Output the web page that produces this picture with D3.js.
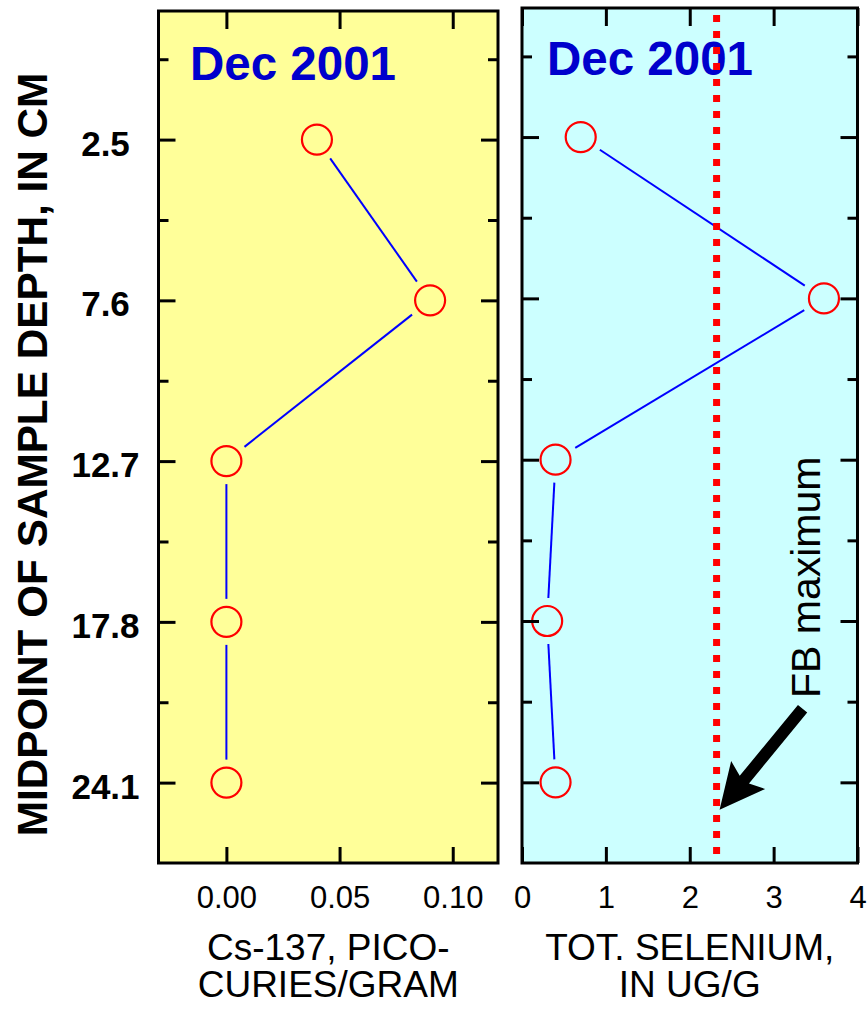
<!DOCTYPE html>
<html><head><meta charset="utf-8">
<script src="https://cdn.jsdelivr.net/npm/d3@7"></script>
<style>body{margin:0;background:#fff}</style>
</head><body><svg id="c" width="867" height="1016" xmlns="http://www.w3.org/2000/svg"></svg>
<script>
// ---- data ----
const depthLabels = ["2.5", "7.6", "12.7", "17.8", "24.1"];
const cs137 = [0.04, 0.09, 0.0, 0.0, 0.0];
const selenium = [0.7, 3.6, 0.4, 0.3, 0.4];
const fbMaximum = 2.32;
const csTicks = [0.00, 0.05, 0.10];
const seTicks = [0, 1, 2, 3, 4];
const panelTitle = "Dec 2001";
const yAxisTitle = "MIDPOINT OF SAMPLE DEPTH, IN CM";
const csLabel = ["Cs-137, PICO-", "CURIES/GRAM"];
const seLabel = ["TOT. SELENIUM,", "IN UG/G"];
const fbLabel = "FB maximum";

const FONT = "'Liberation Sans', Arial, Helvetica, sans-serif";
const svg = d3.select("#c");

const majorIdx = depthLabels.map((d, i) => i + 1);
const minorIdx = depthLabels.map((d, i) => i + 0.5);

function panel(cfg) {
  const g = svg.append("g");
  const x = d3.scaleLinear().domain(cfg.xDomain).range([cfg.x0, cfg.x1]);
  const y = d3.scaleLinear().domain([0.2, 5.5]).range([cfg.y0, cfg.y1]);

  g.append("rect").attr("x", cfg.x0).attr("y", cfg.y0)
    .attr("width", cfg.x1 - cfg.x0).attr("height", cfg.y1 - cfg.y0)
    .attr("fill", cfg.fill);

  // title
  g.append("text").attr("x", cfg.titleX).attr("y", cfg.titleY)
    .attr("font-family", FONT).attr("font-weight", "bold").attr("font-size", 47.5)
    .attr("fill", "#0000CC").text(panelTitle);

  // connecting lines (shortened so they stop short of markers)
  const pts = cfg.values.map((v, i) => [x(v), y(i + 1)]);
  const gap = 23;
  const segs = d3.pairs(pts).map(([a, b]) => {
    const dx = b[0] - a[0], dy = b[1] - a[1], L = Math.hypot(dx, dy);
    const ux = dx / L, uy = dy / L;
    return [a[0] + ux * gap, a[1] + uy * gap, b[0] - ux * gap, b[1] - uy * gap];
  });
  g.selectAll("line.seg").data(segs).join("line").attr("class", "seg")
    .attr("x1", d => d[0]).attr("y1", d => d[1]).attr("x2", d => d[2]).attr("y2", d => d[3])
    .attr("stroke", "#0000FF").attr("stroke-width", 2);

  g.selectAll("circle.pt").data(cfg.values).join("circle").attr("class", "pt")
    .attr("cx", d => x(d)).attr("cy", (d, i) => y(i + 1)).attr("r", 15)
    .attr("fill", "none").attr("stroke", "#FF0000").attr("stroke-width", 2.2);

  if (cfg.extra) cfg.extra(g, x, y);

  // axes (inward ticks)
  const style = sel => {
    sel.select(".domain").remove();
    sel.selectAll(".tick line").attr("stroke", "#000").attr("stroke-width", 3);
    sel.selectAll("text").attr("font-family", FONT).attr("fill", "#000");
  };
  g.append("g").attr("transform", `translate(0,${cfg.y1})`)
    .call(d3.axisBottom(x).tickValues(cfg.xTicks).tickSize(-16).tickPadding(23).tickFormat(cfg.fmt))
    .call(style).call(s => s.selectAll("text").attr("font-size", 31));
  g.append("g").attr("transform", `translate(0,${cfg.y0})`)
    .call(d3.axisTop(x).tickValues(cfg.xTicks).tickSize(-18).tickFormat(""))
    .call(style);
  const left = g.append("g").attr("transform", `translate(${cfg.x0},0)`)
    .call(d3.axisLeft(y).tickValues(majorIdx).tickSize(-17).tickPadding(53)
      .tickFormat(cfg.yLabels ? ((d, i) => depthLabels[i]) : ""))
    .call(style);
  left.selectAll("text").attr("text-anchor", "middle").attr("font-weight", "bold")
    .attr("font-size", 35).attr("dy", "0.44em");
  g.append("g").attr("transform", `translate(${cfg.x0},0)`)
    .call(d3.axisLeft(y).tickValues(minorIdx).tickSize(-10).tickFormat("")).call(style);
  g.append("g").attr("transform", `translate(${cfg.x1},0)`)
    .call(d3.axisRight(y).tickValues(majorIdx).tickSize(-17).tickFormat("")).call(style);
  g.append("g").attr("transform", `translate(${cfg.x1},0)`)
    .call(d3.axisRight(y).tickValues(minorIdx).tickSize(-10).tickFormat("")).call(style);

  // border
  g.append("rect").attr("x", cfg.x0).attr("y", cfg.y0)
    .attr("width", cfg.x1 - cfg.x0).attr("height", cfg.y1 - cfg.y0)
    .attr("fill", "none").attr("stroke", "#000").attr("stroke-width", 3);

  // x label
  const cx = (cfg.x0 + cfg.x1) / 2;
  g.append("text").attr("font-family", FONT).attr("font-size", 37).attr("text-anchor", "middle")
    .selectAll("tspan").data(cfg.xLabel).join("tspan")
    .attr("x", cx).attr("y", (d, i) => 960 + i * 37).text(d => d);
  return { x, y };
}

panel({
  x0: 158.5, x1: 498, y0: 11, y1: 863, xDomain: [-0.03, 0.12], xTicks: csTicks,
  fmt: d3.format(".2f"), fill: "#FFFF99", values: cs137, titleX: 190, titleY: 80,
  xLabel: csLabel, yLabels: true
});

panel({
  x0: 522, x1: 857.5, y0: 8, y1: 863, xDomain: [0, 4], xTicks: seTicks,
  fmt: d3.format("d"), fill: "#CCFFFF", values: selenium, titleX: 547, titleY: 75,
  xLabel: seLabel, yLabels: false,
  extra: (g, x, y) => {
    // FB maximum dotted line (drawn after title)
    g.append("line").attr("x1", x(fbMaximum)).attr("x2", x(fbMaximum))
      .attr("y1", y(0.2)).attr("y2", y(5.5))
      .attr("stroke", "#FF0000").attr("stroke-width", 7)
      .attr("stroke-dasharray", "7,9").attr("stroke-dashoffset", 9);
    // arrow pointing at the line
    const tip = [x(fbMaximum) + 3, y(5.17)];
    const tail = [tip[0] + 83, tip[1] - 101];
    const L = Math.hypot(tail[0] - tip[0], tail[1] - tip[1]);
    const u = [(tail[0] - tip[0]) / L, (tail[1] - tip[1]) / L];
    const n = [-u[1], u[0]];
    const hl = 45, hw = 22, sw = 6;
    const P = (a, b) => [tip[0] + u[0] * a + n[0] * b, tip[1] + u[1] * a + n[1] * b];
    const poly = [P(0, 0), P(hl, hw), P(hl - 6, sw), P(L, sw), P(L, -sw), P(hl - 6, -sw), P(hl, -hw)];
    g.append("path").attr("d", d3.line()(poly) + "Z").attr("fill", "#000");
    g.append("text").attr("transform", `translate(820,698) rotate(-90)`)
      .attr("font-family", FONT).attr("font-size", 41).attr("fill", "#000").text(fbLabel);
  }
});

// y-axis title
svg.append("text").attr("transform", "translate(47,454.5) rotate(-90)")
  .attr("text-anchor", "middle").attr("font-family", FONT).attr("font-weight", "bold")
  .attr("font-size", 42.3).attr("fill", "#000").text(yAxisTitle);
</script>
</body></html>
